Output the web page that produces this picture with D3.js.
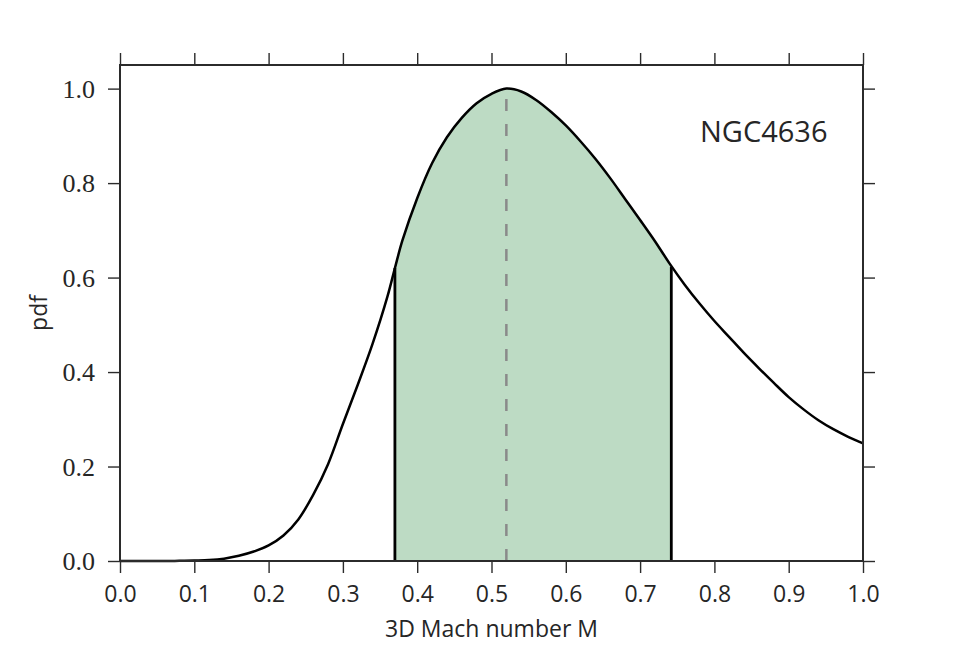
<!DOCTYPE html>
<html>
<head>
<meta charset="utf-8">
<script src="https://cdn.jsdelivr.net/npm/d3@7"></script>
<style>
  html, body { margin: 0; padding: 0; background: #fff; }
  svg { display: block; }
</style>
</head>
<body>
<svg id="chart" width="960" height="660"></svg>
<script>
// ---- data ----
const mach = [0.00,0.02,0.04,0.06,0.08,0.10,0.12,0.14,0.16,0.18,0.20,0.22,0.24,0.26,0.28,0.30,0.32,0.34,0.36,0.37,0.38,0.40,0.42,0.44,0.46,0.48,0.50,0.52,0.54,0.56,0.58,0.60,0.62,0.64,0.66,0.68,0.70,0.72,0.74,0.76,0.78,0.80,0.82,0.84,0.86,0.88,0.90,0.92,0.94,0.96,0.98,1.00];
const pdf  = [0,0,0,0,0.0003,0.001,0.002,0.005,0.011,0.020,0.033,0.054,0.088,0.140,0.205,0.290,0.373,0.460,0.560,0.620,0.678,0.768,0.842,0.897,0.938,0.969,0.989,1.000,0.994,0.976,0.951,0.922,0.888,0.851,0.810,0.766,0.722,0.677,0.629,0.585,0.545,0.508,0.474,0.440,0.408,0.377,0.347,0.321,0.298,0.279,0.263,0.249];
const intervalLow = 0.37, intervalLowPdf = 0.620;
const intervalHigh = 0.742, intervalHighPdf = 0.623;
const peakMach = 0.52, peakLineTop = 0.985;
const xTicks = [0.0,0.1,0.2,0.3,0.4,0.5,0.6,0.7,0.8,0.9,1.0];
const yTicks = [0.0,0.2,0.4,0.6,0.8,1.0];
const xLabel = "3D Mach number M";
const yLabel = "pdf";
const annotation = "NGC4636";

// ---- layout ----
const svg = d3.select("#chart");
const L = 120, T = 65, W = 743, H = 496;
const x = d3.scaleLinear().domain([0, 1]).range([L, L + W]);
const y = d3.scaleLinear().domain([0, 1.05]).range([T + H, T]);
const pts = mach.map((m, i) => [m, pdf[i]]);
const frameColor = "#2b2b2b";
const curve = d3.curveCatmullRom.alpha(0.5);

svg.append("defs").append("clipPath").attr("id", "ci")
  .append("rect")
  .attr("x", x(intervalLow)).attr("y", T)
  .attr("width", x(intervalHigh) - x(intervalLow)).attr("height", H);

// shaded interval
svg.append("path")
  .datum(pts)
  .attr("clip-path", "url(#ci)")
  .attr("fill", "rgb(189,219,196)")
  .attr("d", d3.area().x(d => x(d[0])).y0(y(0)).y1(d => y(d[1])).curve(curve));

// peak dashed line
svg.append("line")
  .attr("x1", x(peakMach)).attr("x2", x(peakMach))
  .attr("y1", y(0)).attr("y2", y(peakLineTop))
  .attr("stroke", "#8a8a8a").attr("stroke-width", 2.5)
  .attr("stroke-dasharray", "12,13");

// interval boundaries
[[intervalLow, intervalLowPdf], [intervalHigh, intervalHighPdf]].forEach(b => {
  svg.append("line")
    .attr("x1", x(b[0])).attr("x2", x(b[0]))
    .attr("y1", y(0)).attr("y2", y(b[1]))
    .attr("stroke", "#000").attr("stroke-width", 2.8);
});

// curve
svg.append("path")
  .datum(pts)
  .attr("fill", "none")
  .attr("stroke", "#000")
  .attr("stroke-width", 2.5)
  .attr("stroke-linejoin", "round")
  .attr("d", d3.line().x(d => x(d[0])).y(d => y(d[1])).curve(curve));

// axes (ticks on all four sides, outward)
const tickLen = 12;
const axB = svg.append("g").attr("transform", `translate(0,${T + H})`)
  .call(d3.axisBottom(x).tickValues(xTicks).tickSize(tickLen).tickPadding(13).tickFormat(d3.format(".1f")));
const axT = svg.append("g").attr("transform", `translate(0,${T})`)
  .call(d3.axisTop(x).tickValues(xTicks).tickSize(tickLen).tickFormat(""));
const axL = svg.append("g").attr("transform", `translate(${L},0)`)
  .call(d3.axisLeft(y).tickValues(yTicks).tickSize(tickLen).tickPadding(13).tickFormat(d3.format(".1f")));
const axR = svg.append("g").attr("transform", `translate(${L + W},0)`)
  .call(d3.axisRight(y).tickValues(yTicks).tickSize(tickLen).tickFormat(""));

[axB, axT, axL, axR].forEach(g => {
  g.select(".domain").remove();
  g.selectAll(".tick line").attr("stroke", frameColor).attr("stroke-width", 1.4);
});
axB.selectAll(".tick text")
  .attr("fill", "#262626")
  .style("font-family", "'Open Sans', sans-serif")
  .style("font-size", "23px");
axL.selectAll(".tick text")
  .attr("fill", "#262626")
  .attr("dy", "0.34em")
  .style("font-family", "'Liberation Serif', serif")
  .style("font-size", "26px");

// frame
svg.append("rect")
  .attr("x", L).attr("y", T).attr("width", W).attr("height", H)
  .attr("fill", "none").attr("stroke", frameColor).attr("stroke-width", 2);

// labels
svg.append("text")
  .attr("x", x(0.5)).attr("y", 637)
  .attr("text-anchor", "middle")
  .attr("fill", "#262626")
  .style("font-family", "'Open Sans', sans-serif")
  .style("font-size", "23px")
  .text(xLabel);

svg.append("text")
  .attr("transform", `translate(47,${T + H / 2}) rotate(-90)`)
  .attr("text-anchor", "middle")
  .attr("fill", "#262626")
  .style("font-family", "'Open Sans', sans-serif")
  .style("font-size", "23px")
  .text(yLabel);

svg.append("text")
  .attr("x", 700).attr("y", 142)
  .attr("fill", "#262626")
  .style("font-family", "'Open Sans', sans-serif")
  .style("font-size", "29px")
  .text(annotation);
</script>
</body>
</html>
